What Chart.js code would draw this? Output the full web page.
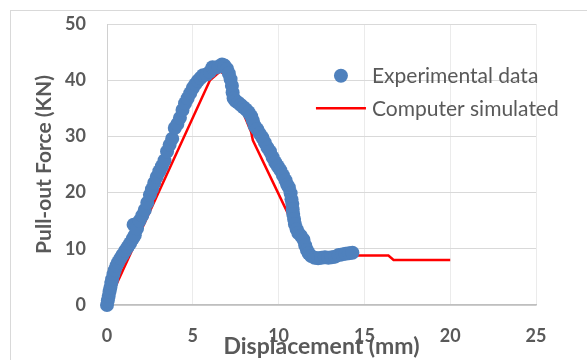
<!DOCTYPE html>
<html>
<head>
<meta charset="utf-8">
<script src="https://cdn.jsdelivr.net/npm/chart.js@4/dist/chart.umd.min.js"></script>
<style>
  html, body { margin: 0; padding: 0; background: #fff; }
  #wrap { width: 587px; height: 360px; }
</style>
</head>
<body>
<div id="wrap"><canvas id="chart" width="587" height="360"></canvas></div>
<script>
// Ensayo de extracción: datos experimentales
const expDesp = [0, 0.05, 0.1, 0.15, 0.2, 0.25, 0.3, 0.38, 0.45, 0.55, 0.65, 0.78, 0.9, 1.05, 1.2, 1.35, 1.5, 1.62, 1.55, 1.75,
  1.9, 2.05, 2.2, 2.35, 2.5, 2.62, 2.75, 2.9, 3.05, 3.2, 3.35, 3.5, 3.65, 3.8, 3.95, 4.1, 4.25, 4.4, 4.55, 4.7,
  4.85, 5.0, 5.15, 5.3, 5.45, 5.6, 5.8, 6.0, 6.15, 6.3, 6.5, 6.7, 6.85, 7.0, 7.1, 7.2, 7.28, 7.32, 7.38, 7.5,
  7.65, 7.8, 7.95, 8.1, 8.25, 8.4, 8.5, 8.6, 8.75, 8.9, 9.05, 9.2, 9.35, 9.5, 9.65, 9.8, 9.95, 10.1, 10.25, 10.4,
  10.5, 10.6, 10.7, 10.75, 10.8, 10.82, 10.85, 10.9, 10.95, 11.05, 11.15, 11.3, 11.45, 11.55, 11.65, 11.75, 11.9, 12.1, 12.3, 12.5,
  12.7, 12.9, 13.1, 13.3, 13.5, 13.7, 13.9, 14.1, 14.3];
const expFuerza = [0, 0.8, 1.6, 2.4, 3.1, 3.9, 4.6, 5.5, 6.2, 7.0, 7.6, 8.3, 8.9, 9.6, 10.3, 11.0, 11.8, 12.4, 14.3, 13.6,
  15.0, 15.9, 16.9, 18.2, 19.6, 20.6, 21.7, 22.8, 23.8, 24.7, 25.7, 27.3, 28.5, 29.6, 31.5, 32.2, 33.3, 34.7, 35.9, 36.8,
  37.7, 38.6, 39.3, 39.9, 40.4, 40.9, 41.0, 41.5, 42.3, 42.2, 42.4, 42.8, 42.6, 42.0, 41.2, 40.2, 39.0, 37.8, 36.8, 36.3,
  36.0, 35.6, 35.2, 34.8, 34.3, 33.6, 32.8, 31.9, 31.3, 30.5, 29.8, 28.9, 28.0, 27.3, 26.3, 25.4, 24.7, 24.0, 23.1, 22.2,
  21.4, 20.9, 19.9, 18.8, 18.0, 17.0, 16.2, 15.3, 14.4, 13.5, 12.8, 12.3, 11.6, 10.6, 9.8, 9.2, 8.7, 8.4, 8.3, 8.4,
  8.5, 8.4, 8.5, 8.6, 8.9, 9.0, 9.1, 9.2, 9.3];

// Simulación por computadora
const simDesp = [0, 6.0, 6.6, 7.1, 8.4, 8.5, 10.4, 11.3, 12.0, 16.4, 16.7, 20.0];
const simFuerza = [0, 40.0, 41.6, 40.4, 30.8, 29.3, 17.2, 11.5, 8.8, 8.8, 8.0, 8.0];

const etiquetas = ['Experimental data', 'Computer simulated'];
const colorExp = '#4F81BD';
const colorSim = '#FF0000';
const gris = '#595959';
const fuente = "Lato, 'Liberation Sans', sans-serif";

const puntosExp = expDesp.map((x, i) => ({ x: x, y: expFuerza[i] }));
const puntosSim = simDesp.map((x, i) => ({ x: x, y: simFuerza[i] }));

// Borde exterior del área del gráfico
const bordeExterior = {
    id: 'bordeExterior',
    beforeDraw(chart) {
        const ctx = chart.ctx;
        ctx.save();
        ctx.fillStyle = '#fff';
        ctx.fillRect(0, 0, chart.width, chart.height);
        ctx.strokeStyle = '#D9D9D9';
        ctx.lineWidth = 1;
        ctx.strokeRect(10.5, 10.5, chart.width + 20, chart.height + 20);
        ctx.restore();
    }
};

// Leyenda dibujada dentro del área de trazado
const leyenda = {
    id: 'leyenda',
    afterDraw(chart) {
        const ctx = chart.ctx;
        const xs = chart.scales.x, ys = chart.scales.y;
        const x0 = xs.getPixelForValue(15.44);
        const yA = ys.getPixelForValue(40.8);
        const yB = ys.getPixelForValue(35.0);
        ctx.save();
        ctx.fillStyle = colorExp;
        ctx.beginPath();
        ctx.arc(x0 - 31, yA, 7, 0, Math.PI * 2);
        ctx.fill();
        ctx.strokeStyle = colorSim;
        ctx.lineWidth = 2.5;
        ctx.beginPath();
        ctx.moveTo(x0 - 56, yB);
        ctx.lineTo(x0 - 6, yB);
        ctx.stroke();
        ctx.fillStyle = gris;
        ctx.font = '21px ' + fuente;
        ctx.textBaseline = 'middle';
        ctx.fillText(etiquetas[0], x0, yA + 1);
        ctx.fillText(etiquetas[1], x0, yB + 1);
        ctx.restore();
    }
};

const ctx = document.getElementById('chart').getContext('2d');
new Chart(ctx, {
    type: 'scatter',
    data: {
        datasets: [{
            label: etiquetas[0],
            data: puntosExp,
            backgroundColor: colorExp,
            borderWidth: 0,
            pointRadius: 7,
            pointHoverRadius: 7,
            clip: false
        }, {
            label: etiquetas[1],
            data: puntosSim,
            showLine: true,
            borderColor: colorSim,
            borderWidth: 2.5,
            pointRadius: 0,
            tension: 0,
            fill: false
        }]
    },
    options: {
        responsive: false,
        animation: false,
        events: [],
        layout: { padding: { left: 0, top: 24, right: 51, bottom: 0 } },
        plugins: {
            legend: { display: false },
            tooltip: { enabled: false }
        },
        scales: {
            x: {
                type: 'linear',
                min: 0,
                max: 25,
                afterFit(scale) {
                    scale.height = 55;
                    scale.paddingTop = 0;
                    scale.paddingBottom = 0;
                },
                ticks: {
                    stepSize: 1,
                    autoSkip: false,
                    maxRotation: 0,
                    padding: 20,
                    color: gris,
                    font: { family: fuente, size: 18, weight: 'bold' },
                    callback: v => (v % 5 === 0 ? v : null)
                },
                grid: { color: '#EBEBEB', lineWidth: 1, drawTicks: false },
                border: { color: '#BFBFBF', width: 1.5 },
                title: {
                    display: true,
                    text: 'Displacement (mm)',
                    color: gris,
                    font: { family: fuente, size: 23, weight: 'bold' },
                    padding: { top: 0, bottom: 0 }
                }
            },
            y: {
                min: 0,
                max: 50,
                afterFit(scale) {
                    scale.width = 107;
                    scale.paddingTop = 0;
                    scale.paddingBottom = 0;
                },
                ticks: {
                    stepSize: 10,
                    padding: 21,
                    color: gris,
                    font: { family: fuente, size: 18, weight: 'bold' }
                },
                grid: { color: '#D9D9D9', lineWidth: 1, drawTicks: false },
                border: { color: '#D0D0D0', width: 1 },
                title: {
                    display: true,
                    text: 'Pull-out Force (KN)',
                    color: gris,
                    font: { family: fuente, size: 21, weight: 'bold' },
                    padding: { top: 32, bottom: 0 }
                }
            }
        }
    },
    plugins: [bordeExterior, leyenda]
});
</script>
</body>
</html>
